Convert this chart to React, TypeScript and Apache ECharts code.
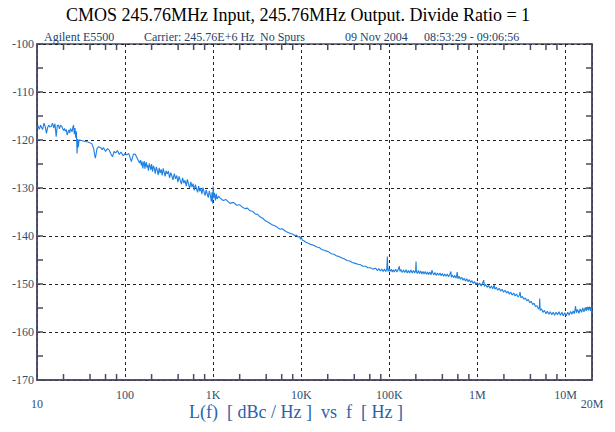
import React, { useEffect, useRef } from "react";
import * as echarts from "echarts";

const TITLE = "CMOS 245.76MHz Input, 245.76MHz Output. Divide Ratio = 1";
const SUBTITLE_PARTS = ["Agilent E5500", "Carrier: 245.76E+6 Hz", "No Spurs", "09 Nov 2004", "08:53:29 - 09:06:56"];
const X_TITLE = "L(f)  [ dBc / Hz ]  vs  f  [ Hz ]";

const Y_MIN = -170;
const Y_MAX = -100;
const Y_STEP = 10;
const F_MIN = 10;
const F_MAX = 2e7;
const DECADES = [10, 100, 1e3, 1e4, 1e5, 1e6, 1e7];
const MINOR_MULTS = [2, 4, 6, 8];

// 10 Hz - 30 Hz (jagged)
const seg1: [number, number][] = [
  [10, -117.6], [10.3, -117.0], [10.6, -117.8], [11, -116.9], [11.3, -117.5], [11.6, -117.8],
  [12, -116.5], [12.4, -117.2], [12.8, -118.6], [13.2, -117.4], [13.6, -116.9], [14, -117.3],
  [14.5, -117.2], [15, -116.5], [15.5, -117.5], [16, -116.6], [16.5, -119.3], [17, -117.0],
  [17.5, -116.9], [18, -117.7], [18.5, -116.9], [19, -117.1], [19.5, -117.6], [20, -118.0],
  [20.5, -117.6], [21, -118.2], [21.5, -117.8], [22, -119.0], [23, -117.9], [23.5, -118.5],
  [24, -117.6], [25, -118.3], [25.5, -117.4], [26, -116.9], [26.5, -118.8], [27, -117.5],
  [27.5, -119.5], [28, -118.2], [28.5, -122.8], [29, -119.8], [29.5, -121.5], [30, -120.0],
];

// 30 Hz - 150 Hz
const seg2: [number, number][] = [
  [32, -120.1], [35, -120.3], [38, -120.4], [40, -120.6], [42, -120.8], [44, -121.8],
  [45, -123.0], [46, -123.8], [47, -122.8], [48, -121.8], [50, -121.4], [53, -121.6],
  [55, -122.0], [57, -121.6], [60, -122.4], [63, -121.8], [66, -122.1], [69, -122.9],
  [72, -123.5], [75, -122.4], [78, -122.7], [82, -122.2], [86, -123.0], [90, -122.5],
  [95, -123.3], [100, -122.8], [105, -123.1], [110, -122.8], [118, -124.5], [124, -123.0],
  [130, -122.9], [141, -124.2], [146, -124.8],
];

// 150 Hz - 1.2 kHz (dense noise)
const seg3: [number, number][] = [
  [150, -124.2], [153, -125.3], [156, -124.5], [159, -125.9], [162, -124.9], [165, -124.4],
  [168, -126.0], [171, -125.1], [174, -124.6], [177, -125.7], [180, -125.2], [184, -126.4],
  [188, -124.9], [192, -125.5], [196, -126.2], [200, -125.0], [205, -126.6], [210, -125.4],
  [215, -125.9], [220, -127.0], [226, -125.6], [232, -126.3], [238, -127.3], [244, -125.8],
  [250, -126.9], [257, -126.1], [264, -127.4], [271, -125.9], [278, -126.8], [285, -127.6],
  [292, -126.4], [300, -127.1], [310, -126.5], [320, -127.9], [330, -126.8], [340, -127.5],
  [350, -128.3], [362, -127.0], [374, -128.1], [386, -127.4], [398, -128.8], [410, -127.6],
  [423, -128.4], [436, -129.2], [450, -127.9], [465, -129.0], [480, -128.4], [495, -129.6],
  [510, -128.2], [526, -129.3], [542, -130.0], [558, -128.7], [575, -129.8], [592, -129.1],
  [610, -130.5], [628, -129.3], [646, -130.1], [665, -130.9], [684, -129.6], [704, -130.7],
  [724, -130.0], [745, -131.3], [766, -129.9], [788, -130.8], [810, -131.6], [833, -130.4],
  [856, -131.2], [880, -132.0], [904, -130.6], [928, -131.5], [952, -132.8], [970, -130.9],
  [985, -133.2], [1000, -129.7], [1015, -132.0], [1035, -131.0], [1060, -132.6], [1085, -131.2],
  [1110, -132.3], [1150, -131.7], [1200, -132.1],
];

// 1.2 kHz - 70 kHz
const seg4: [number, number][] = [
  [1300, -132.6], [1400, -132.4], [1550, -133.2], [1700, -133.0], [1850, -133.6], [2000, -133.5],
  [2150, -134.0], [2300, -134.3], [2450, -134.2], [2600, -134.7], [2830, -134.9], [3000, -135.4],
  [3200, -135.5], [3400, -136.0], [3650, -136.3], [3900, -136.8], [4100, -137.0], [4350, -137.3],
  [4600, -137.6], [4900, -137.8], [5200, -138.0], [5500, -138.4], [5800, -138.6], [6100, -138.5],
  [6400, -138.8], [6800, -139.1], [7200, -139.3], [7600, -139.5], [8000, -139.6], [8400, -139.9],
  [8800, -139.8], [9200, -140.2], [9600, -140.1], [9800, -140.7], [10000, -140.2], [10300, -140.9],
  [10700, -141.0], [11300, -141.3], [12000, -141.5], [13000, -141.8], [14000, -142.0], [15000, -142.3],
  [16000, -142.4], [17000, -142.8], [18000, -142.9], [19000, -143.1], [20500, -143.3], [22000, -143.7],
  [23500, -143.8], [25000, -144.1], [27000, -144.3], [29000, -144.6], [31000, -144.8], [33000, -145.1],
  [35500, -145.2], [38000, -145.5], [41000, -145.7], [44000, -145.9], [47000, -146.0], [50000, -146.3],
  [54000, -146.3], [57000, -146.6], [61000, -146.6], [65000, -146.9],
];

// 70 kHz - 20 MHz
const seg5: [number, number][] = [
  [70000, -146.7], [73000, -147.2], [76000, -146.8], [79000, -147.3], [82000, -146.9], [85000, -147.4],
  [88000, -146.9], [91000, -147.4], [93500, -147.0], [95000, -144.3], [96500, -147.4], [99000, -146.8],
  [102000, -147.4], [105000, -146.9], [108000, -147.5], [111000, -147.0], [114000, -147.5], [118000, -146.9],
  [122000, -147.5], [126000, -147.0], [130000, -146.3], [132000, -147.4], [136000, -147.0], [140000, -147.6],
  [145000, -147.1], [150000, -147.6], [155000, -147.0], [160000, -147.7], [165000, -147.2], [170000, -147.7],
  [176000, -147.1], [182000, -147.7], [188000, -147.2], [194000, -147.7], [199000, -147.2], [201000, -145.3],
  [203000, -147.4], [208000, -147.8], [214000, -147.2], [220000, -147.8], [227000, -147.3], [234000, -147.9],
  [241000, -147.4], [248000, -147.9], [256000, -147.4], [264000, -148.0], [272000, -147.5], [280000, -148.0],
  [289000, -147.5], [298000, -148.1], [305000, -147.1], [310000, -147.6], [320000, -148.1], [330000, -147.6],
  [340000, -148.2], [352000, -147.7], [364000, -148.2], [376000, -147.7], [388000, -148.3], [400000, -147.8],
  [413000, -148.4], [426000, -147.9], [440000, -148.4], [455000, -147.9], [470000, -148.5], [485000, -148.0],
  [500000, -147.4], [505000, -148.6], [520000, -148.1], [537000, -148.7], [555000, -148.2], [573000, -148.8],
  [590000, -147.5], [600000, -148.9], [620000, -148.4], [640000, -149.0], [662000, -148.6], [685000, -149.2],
  [708000, -148.8], [732000, -149.4], [757000, -148.9], [783000, -149.5], [810000, -149.1], [838000, -149.7],
  [867000, -149.3], [897000, -149.9], [928000, -149.5], [960000, -150.1], [993000, -149.7], [1.03e6, -150.2],
  [1.06e6, -149.8], [1.1e6, -150.4], [1.14e6, -149.9], [1.18e6, -149.2], [1.2e6, -150.5], [1.24e6, -150.1],
  [1.29e6, -150.7], [1.34e6, -150.3], [1.39e6, -150.9], [1.44e6, -150.4], [1.49e6, -151.0], [1.55e6, -150.2],
  [1.58e6, -151.1], [1.64e6, -150.7], [1.7e6, -151.3], [1.77e6, -150.9], [1.84e6, -151.5], [1.91e6, -151.1],
  [1.98e6, -151.7], [2.06e6, -151.3], [2.14e6, -151.9], [2.22e6, -151.5], [2.3e6, -152.1], [2.39e6, -151.7],
  [2.48e6, -152.3], [2.58e6, -151.9], [2.68e6, -152.5], [2.78e6, -152.1], [2.89e6, -152.7], [3.0e6, -152.3],
  [3.05e6, -151.7], [3.12e6, -152.9], [3.24e6, -152.6], [3.37e6, -153.2], [3.5e6, -152.9], [3.64e6, -153.5],
  [3.78e6, -153.2], [3.93e6, -153.9], [4.08e6, -153.6], [4.24e6, -154.3], [4.4e6, -154.0], [4.57e6, -154.7],
  [4.75e6, -154.5], [4.93e6, -155.2], [5.05e6, -154.9], [5.1e6, -153.0], [5.16e6, -155.5], [5.35e6, -155.2],
  [5.55e6, -155.9], [5.77e6, -155.5], [6.0e6, -156.2], [6.23e6, -155.7], [6.47e6, -156.3], [6.72e6, -155.8],
  [6.98e6, -156.4], [7.25e6, -155.9], [7.53e6, -156.5], [7.82e6, -155.9], [8.12e6, -156.4], [8.43e6, -155.8],
  [8.76e6, -156.5], [9.1e6, -155.9], [9.45e6, -156.6], [9.8e6, -156.0], [1.02e7, -156.6], [1.06e7, -155.9],
  [1.1e7, -156.5], [1.14e7, -155.7], [1.18e7, -156.3], [1.22e7, -155.6], [1.26e7, -156.2], [1.3e7, -154.6],
  [1.33e7, -156.0], [1.37e7, -155.3], [1.42e7, -156.1], [1.47e7, -155.2], [1.52e7, -155.9], [1.57e7, -155.0],
  [1.62e7, -155.8], [1.67e7, -154.9], [1.72e7, -155.6], [1.77e7, -154.8], [1.82e7, -155.5], [1.87e7, -154.7],
  [1.92e7, -155.6], [1.96e7, -155.0], [2.0e7, -156.0],
];

const FONT = "'Liberation Serif', 'DejaVu Serif', serif";
const LABEL_COLOR = "#2f4f70";
const AXIS_COLOR = "#4a4a66";
const TRACE_COLOR = "#1e80e0";
const SUB_COLOR = "#24446c";

const fmtFreq = (v: number) => {
  const r = Math.round(v);
  if (r >= 1e6) return Math.round(r / 1e6) + "M";
  if (r >= 1e3) return Math.round(r / 1e3) + "K";
  return String(r);
};
const isEnd = (v: number) => Math.abs(v - F_MIN) < 1e-6 || Math.abs(v - F_MAX) < 10;

export default function App() {
  const ref = useRef<HTMLDivElement>(null);
  useEffect(() => {
    document.body.style.margin = "0";
    const chart = echarts.init(ref.current!, null, { renderer: "svg" });
    const traceData = [...seg1, ...seg2, ...seg3, ...seg4, ...seg5];
    const minorTicks: number[][] = [];
    DECADES.forEach((d) => MINOR_MULTS.forEach((m) => {
      const f = d * m;
      if (f < F_MAX) minorTicks.push([f, Y_MIN]);
    }));

    const baseX = {
      type: "log" as const,
      logBase: 10,
      min: F_MIN,
      max: F_MAX,
      gridIndex: 0,
      position: "bottom" as const,
    };
    const subX = [44, 144, 260, 345, 424];

    chart.setOption({
      animation: false,
      backgroundColor: "#ffffff",
      grid: { left: 37, top: 44, width: 555, height: 336, show: true, borderColor: AXIS_COLOR, borderWidth: 1.5, backgroundColor: "transparent" },
      xAxis: [
        {
          ...baseX,
          axisLine: { show: true, lineStyle: { color: AXIS_COLOR, width: 1.5 } },
          axisTick: { show: false },
          minorTick: { show: false },
          splitLine: { show: true, lineStyle: { color: "#222", type: [3, 3], width: 1 } },
          axisLabel: {
            showMinLabel: true, showMaxLabel: true, margin: 9,
            fontFamily: FONT, fontSize: 12, color: LABEL_COLOR,
            formatter: (v: number) => (isEnd(v) ? "" : fmtFreq(v)),
          },
        },
        {
          ...baseX,
          axisLine: { show: false },
          axisTick: { show: false },
          minorTick: { show: false },
          splitLine: { show: false },
          axisLabel: {
            showMinLabel: true, showMaxLabel: true, margin: 18,
            fontFamily: FONT, fontSize: 12, color: LABEL_COLOR,
            formatter: (v: number) => (isEnd(v) ? fmtFreq(v) : ""),
          },
        },
      ],
      yAxis: [
        {
          type: "value", min: Y_MIN, max: Y_MAX, interval: Y_STEP, position: "left",
          axisLine: { show: true, lineStyle: { color: AXIS_COLOR, width: 1.5 } },
          axisTick: { show: true, inside: true, length: 6, lineStyle: { color: AXIS_COLOR, width: 1.5 } },
          minorTick: { show: true, splitNumber: 2, length: 6, lineStyle: { color: AXIS_COLOR, width: 1.5 } },
          splitLine: { show: true, lineStyle: { color: "#222", type: [3, 3], width: 1 } },
          axisLabel: { margin: 3, fontFamily: FONT, fontSize: 12, color: LABEL_COLOR },
        },
        {
          type: "value", min: Y_MIN, max: Y_MAX, interval: Y_STEP, position: "right",
          axisLine: { show: true, lineStyle: { color: AXIS_COLOR, width: 1.5 } },
          axisTick: { show: true, inside: true, length: 6, lineStyle: { color: AXIS_COLOR, width: 1.5 } },
          minorTick: { show: true, splitNumber: 2, length: 6, lineStyle: { color: AXIS_COLOR, width: 1.5 } },
          splitLine: { show: false },
          axisLabel: { show: false },
        },
      ],
      series: [
        {
          type: "line",
          data: traceData,
          showSymbol: false,
          symbol: "none",
          lineStyle: { color: TRACE_COLOR, width: 1.1 },
          silent: true,
          z: 5,
        },
        {
          type: "custom",
          data: minorTicks,
          silent: true,
          z: 4,
          renderItem: (params: any, api: any) => {
            const f = api.value(0);
            const b = api.coord([f, Y_MIN]);
            const t = api.coord([f, Y_MAX]);
            const st = { stroke: AXIS_COLOR, lineWidth: 1.5 };
            return {
              type: "group",
              children: [
                { type: "line", shape: { x1: b[0], y1: b[1], x2: b[0], y2: b[1] - 6 }, style: st },
                { type: "line", shape: { x1: t[0], y1: t[1], x2: t[0], y2: t[1] + 6 }, style: st },
              ],
            };
          },
        },
      ],
      graphic: [
        { type: "text", x: 298, y: 15, style: { text: TITLE, fontFamily: FONT, fontSize: 18, fill: "#000", textAlign: "center", textVerticalAlign: "middle" } },
        ...SUBTITLE_PARTS.map((t, i) => ({
          type: "text", x: subX[i], y: 37,
          style: { text: t, fontFamily: FONT, fontSize: 12, fill: SUB_COLOR, textVerticalAlign: "middle" },
        })),
        { type: "text", x: 296, y: 412, style: { text: X_TITLE, fontFamily: FONT, fontSize: 18, fill: "#2a64a8", textAlign: "center", textVerticalAlign: "middle" } },
      ],
    });
    return () => chart.dispose();
  }, []);
  return <div ref={ref} style={{ width: 615, height: 432 }} />;
}
